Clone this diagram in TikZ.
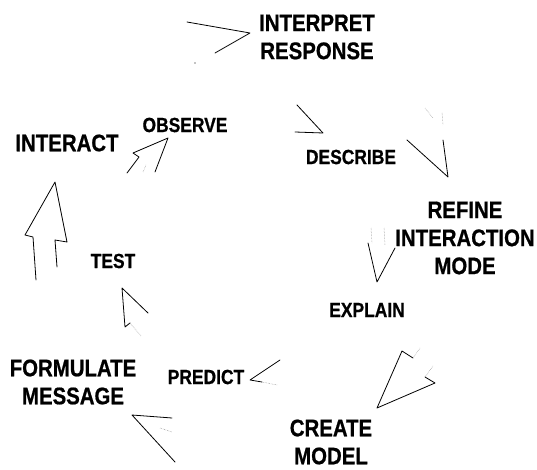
\documentclass[tikz,border=0pt]{standalone}
\usepackage{fontspec}
\setmainfont{Liberation Sans}[FakeStretch=0.85, BoldFeatures={FakeBold=0.7}]
\begin{document}
\begin{tikzpicture}[x=1pt,y=-1pt,
  big/.style={font=\fontsize{24}{28}\selectfont\bfseries, align=center, inner sep=0pt},
  small/.style={font=\fontsize{20.5}{24}\selectfont\bfseries, inner sep=0pt},
  arr/.style={line width=0.8pt, line join=round, line cap=round},
  faint/.style={black!45, line width=0.5pt, densely dotted}]
\useasboundingbox (0,0) rectangle (537,470);
% labels
\node[big]   (interp)    at (317,37)  {INTERPRET\\RESPONSE};
\node[small] (observe)   at (185,125) {OBSERVE};
\node[big]   (interact)  at (67,143)  {INTERACT};
\node[small] (describe)  at (351,157) {DESCRIBE};
\node[big]   (refine)    at (465,238) {REFINE\\INTERACTION\\MODE};
\node[small] (test)      at (113,261) {TEST};
\node[small] (explain)   at (367,310) {EXPLAIN};
\node[small] (predict)   at (206,377) {PREDICT};
\node[big]   (formulate) at (73,382)  {FORMULATE\\MESSAGE};
\node[big]   (create)    at (331,442) {CREATE\\MODEL};
% arrow sketches
% 1 interpret
\draw[arr] (187,22) -- (250,33) -- (215,53);
\fill (195,63) circle (0.6);
% 2 observe
\draw[arr] (127,173) -- (139,157) -- (133,153) -- (168,138) -- (155,172);
\draw[faint] (143,172) -- (146,165);
% 3 describe
\draw[arr] (297,105) -- (323,133) -- (295,132);
% 4 refine
\draw[arr] (407,140) -- (448,177) -- (443,140);
\draw[faint] (425,108) -- (433,118);
\draw[faint] (442,113) -- (443,125);
% 5 explain
\draw[arr] (368,243) -- (377,282) -- (395,248);
\draw[faint] (371,228) -- (372,243);
\draw[faint] (384,228) -- (385,245);
% 6 create
\draw[arr] (413,358) -- (402,351) -- (377,408) -- (435,383) -- (425,377);
\draw[faint] (413,358) -- (420,348);
\draw[faint] (425,377) -- (433,366);
% 7 predict
\draw[arr] (280,360) -- (250,380) -- (262,382);
\draw[faint] (262,382) -- (277,385);
% 8 formulate
\draw[arr] (172,418) -- (132,415) -- (175,462);
\draw[faint] (160,428) -- (172,432);
% 9 test
\draw[arr] (130,323) -- (125,327) -- (122,288) -- (148,313);
\draw[faint] (130,323) -- (141,336);
% 10 interact
\draw[arr] (36,280) -- (33,237) -- (25,235) -- (55,182) -- (67,242) -- (55,240) -- (57,267);
\end{tikzpicture}
\end{document}
